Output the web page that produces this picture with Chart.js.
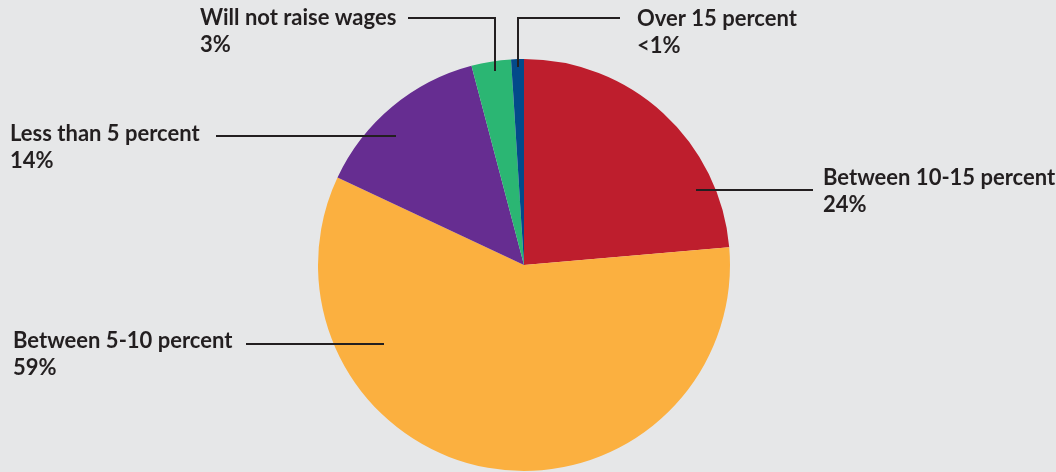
<!DOCTYPE html>
<html>
<head>
<meta charset="utf-8">
<script src="https://cdn.jsdelivr.net/npm/chart.js@4"></script>
<style>
  html, body { margin: 0; padding: 0; background: #e6e7e8; }
  #wrap { width: 1056px; height: 472px; position: relative; }
</style>
</head>
<body>
<div id="wrap"><canvas id="myChart"></canvas></div>
<script>
const categories = ['Between 10-15 percent', 'Between 5-10 percent', 'Less than 5 percent', 'Will not raise wages', 'Over 15 percent'];
const shares = [23.6, 58.3, 13.9, 3.1, 1.0];
const pctLabels = ['24%', '59%', '14%', '3%', '<1%'];
const colors = ['#be1e2d', '#fbb040', '#662d91', '#2bb673', '#034a8a'];

// callout layout per slice: where the leader touches the slice (fraction of arc, fraction of radius),
// where the text sits and how the line bends
const callouts = [
  { t: 0.78, r: 0.91, textX: 823, textY: 185, path: (a) => [[a.x, a.y], [813, a.y]] },
  { t: 0.74, r: 0.78, textX: 13, textY: 348, path: (a) => [[a.x, a.y], [246, a.y]] },
  { t: 0.40, r: 0.88, textX: 10, textY: 141, path: (a) => [[a.x, a.y], [216, a.y]] },
  { t: 0.57, r: 0.95, textX: 200, textY: 25, path: (a) => [[a.x, a.y], [a.x, 18], [408, 18]] },
  { t: 0.50, r: 0.96, textX: 637, textY: 26, path: (a) => [[a.x, a.y], [a.x, 18], [620, 18]] }
];

const calloutPlugin = {
  id: 'callouts',
  afterDraw(chart) {
    const ctx = chart.ctx;
    const arcs = chart.getDatasetMeta(0).data;
    ctx.save();
    arcs.forEach((arc, i) => {
      const c = callouts[i];
      const ang = arc.startAngle + (arc.endAngle - arc.startAngle) * c.t;
      const anchor = {
        x: Math.round(arc.x + Math.cos(ang) * arc.outerRadius * c.r),
        y: Math.round(arc.y + Math.sin(ang) * arc.outerRadius * c.r)
      };
      const pts = c.path(anchor);
      ctx.beginPath();
      ctx.strokeStyle = '#231f20';
      ctx.lineWidth = 2;
      ctx.moveTo(pts[0][0], pts[0][1]);
      pts.slice(1).forEach((p) => ctx.lineTo(p[0], p[1]));
      ctx.stroke();

      ctx.fillStyle = '#231f20';
      ctx.font = 'bold 22px Lato';
      ctx.textBaseline = 'alphabetic';
      ctx.textAlign = 'left';
      ctx.fillText(categories[i], c.textX, c.textY);
      ctx.fillText(pctLabels[i], c.textX, c.textY + 27);
    });
    ctx.restore();
  }
};

const chartTarget = document.querySelector('#myChart');
new Chart(chartTarget, {
  type: 'pie',
  data: {
    labels: categories,
    datasets: [{
      data: shares,
      backgroundColor: colors,
      borderWidth: 0
    }]
  },
  options: {
    responsive: true,
    maintainAspectRatio: false,
    animation: false,
    layout: { padding: { left: 318, right: 326, top: 59, bottom: 1 } },
    plugins: {
      legend: { display: false },
      tooltip: { enabled: false }
    }
  },
  plugins: [calloutPlugin]
});
</script>
</body>
</html>
